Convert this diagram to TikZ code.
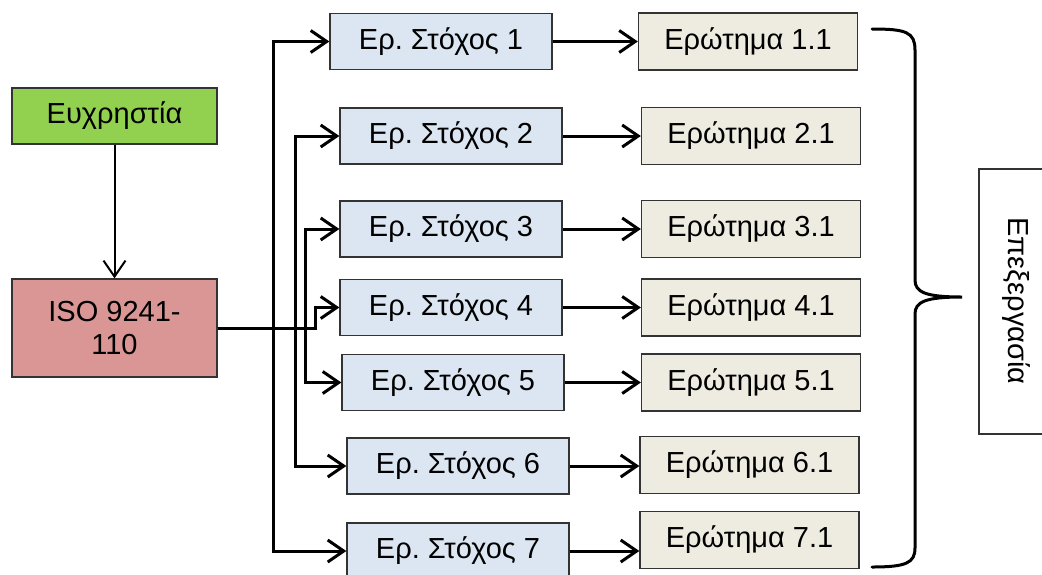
\documentclass[tikz,border=0pt]{standalone}
\usepackage{fontspec}
\setmainfont{Liberation Sans}
\usetikzlibrary{arrows.meta}
\frenchspacing

\definecolor{usegreen}{HTML}{92D050}
\definecolor{isored}{HTML}{D99694}
\definecolor{goalblue}{HTML}{DCE6F2}
\definecolor{qbeige}{HTML}{EEECE1}

\tikzset{
  box/.style={draw=black!80, line width=1.3pt, inner sep=0pt, align=center,
    font=\fontsize{29}{33}\selectfont},
  usebox/.style={box, fill=usegreen, minimum width=205pt, minimum height=56pt},
  isobox/.style={box, fill=isored, minimum width=205pt, minimum height=98pt},
  goalbox/.style={box, fill=goalblue, minimum width=222pt, minimum height=56pt},
  qbox/.style={box, fill=qbeige, minimum width=219pt, minimum height=57pt},
  conn/.style={line width=3pt, -{Straight Barb[length=16pt,width=22pt]}},
  thinconn/.style={line width=2pt, -{Straight Barb[length=16pt,width=22pt]}},
  bracestyle/.style={line width=3pt, line cap=round},
}

\begin{document}
\begin{tikzpicture}[x=1pt,y=-1pt]
\useasboundingbox (0,0) rectangle (1042,574);

% source boxes
\node[usebox] (use) at (114.5,116) {Ευχρηστία};
\node[isobox] (iso) at (114.5,328) {ISO 9241-\\110};

% goals
\node[goalbox] (s1) at (441,41.5)  {Ερ. Στόχος 1};
\node[goalbox] (s2) at (451,136)   {Ερ. Στόχος 2};
\node[goalbox] (s3) at (451,229)   {Ερ. Στόχος 3};
\node[goalbox] (s4) at (451,307.5) {Ερ. Στόχος 4};
\node[goalbox] (s5) at (453,382.5) {Ερ. Στόχος 5};
\node[goalbox] (s6) at (458,466)   {Ερ. Στόχος 6};
\node[goalbox] (s7) at (458,551)   {Ερ. Στόχος 7};

% questions
\node[qbox] (q1) at (748,41.5)  {Ερώτημα 1.1};
\node[qbox] (q2) at (751,136)   {Ερώτημα 2.1};
\node[qbox] (q3) at (751,229)   {Ερώτημα 3.1};
\node[qbox] (q4) at (751,307.5) {Ερώτημα 4.1};
\node[qbox] (q5) at (751,382.5) {Ερώτημα 5.1};
\node[qbox] (q6) at (749.5,465) {Ερώτημα 6.1};
\node[qbox] (q7) at (749.5,540) {Ερώτημα 7.1};

% vertical trunks of the fan-out
\coordinate (tA) at (273,0);
\coordinate (tB) at (295,0);
\coordinate (tC) at (305,0);
\coordinate (tD) at (315,0);

\draw[thinconn] (use.south) -- (iso.north);

\draw[conn] (iso.east) -- (iso.east -| tA) |- (s1.west);
\draw[conn] (iso.east) -- (iso.east -| tA) |- (s7.west);
\draw[conn] (iso.east) -- (iso.east -| tB) |- (s2.west);
\draw[conn] (iso.east) -- (iso.east -| tB) |- (s6.west);
\draw[conn] (iso.east) -- (iso.east -| tC) |- (s3.west);
\draw[conn] (iso.east) -- (iso.east -| tC) |- (s5.west);
\draw[conn] (iso.east) -- (iso.east -| tD) |- (s4.west);

\foreach \i in {1,...,7}
  \draw[conn] (s\i.east) -- (s\i.east -| q\i.west);

% curly brace
\coordinate (bTop) at (872,29);
\coordinate (bTip) at (962,297);
\coordinate (bBot) at (872,567);
\draw[bracestyle] (bTop) .. controls (906,29) and (915,32) .. (915,50)
  -- (915,280) .. controls (915,292) and (925,297) .. (bTip)
  .. controls (925,297) and (915,302) .. (915,314)
  -- (915,548) .. controls (915,563) and (906,567) .. (bBot);

% processing label
\node[rotate=-90, font=\fontsize{29}{33}\selectfont] (proc) at (1016,301) {Επεξεργασία};
\draw[draw=black!80, line width=1.3pt] (1044,169) -| (979,434) -- (1044,434);

\end{tikzpicture}
\end{document}
